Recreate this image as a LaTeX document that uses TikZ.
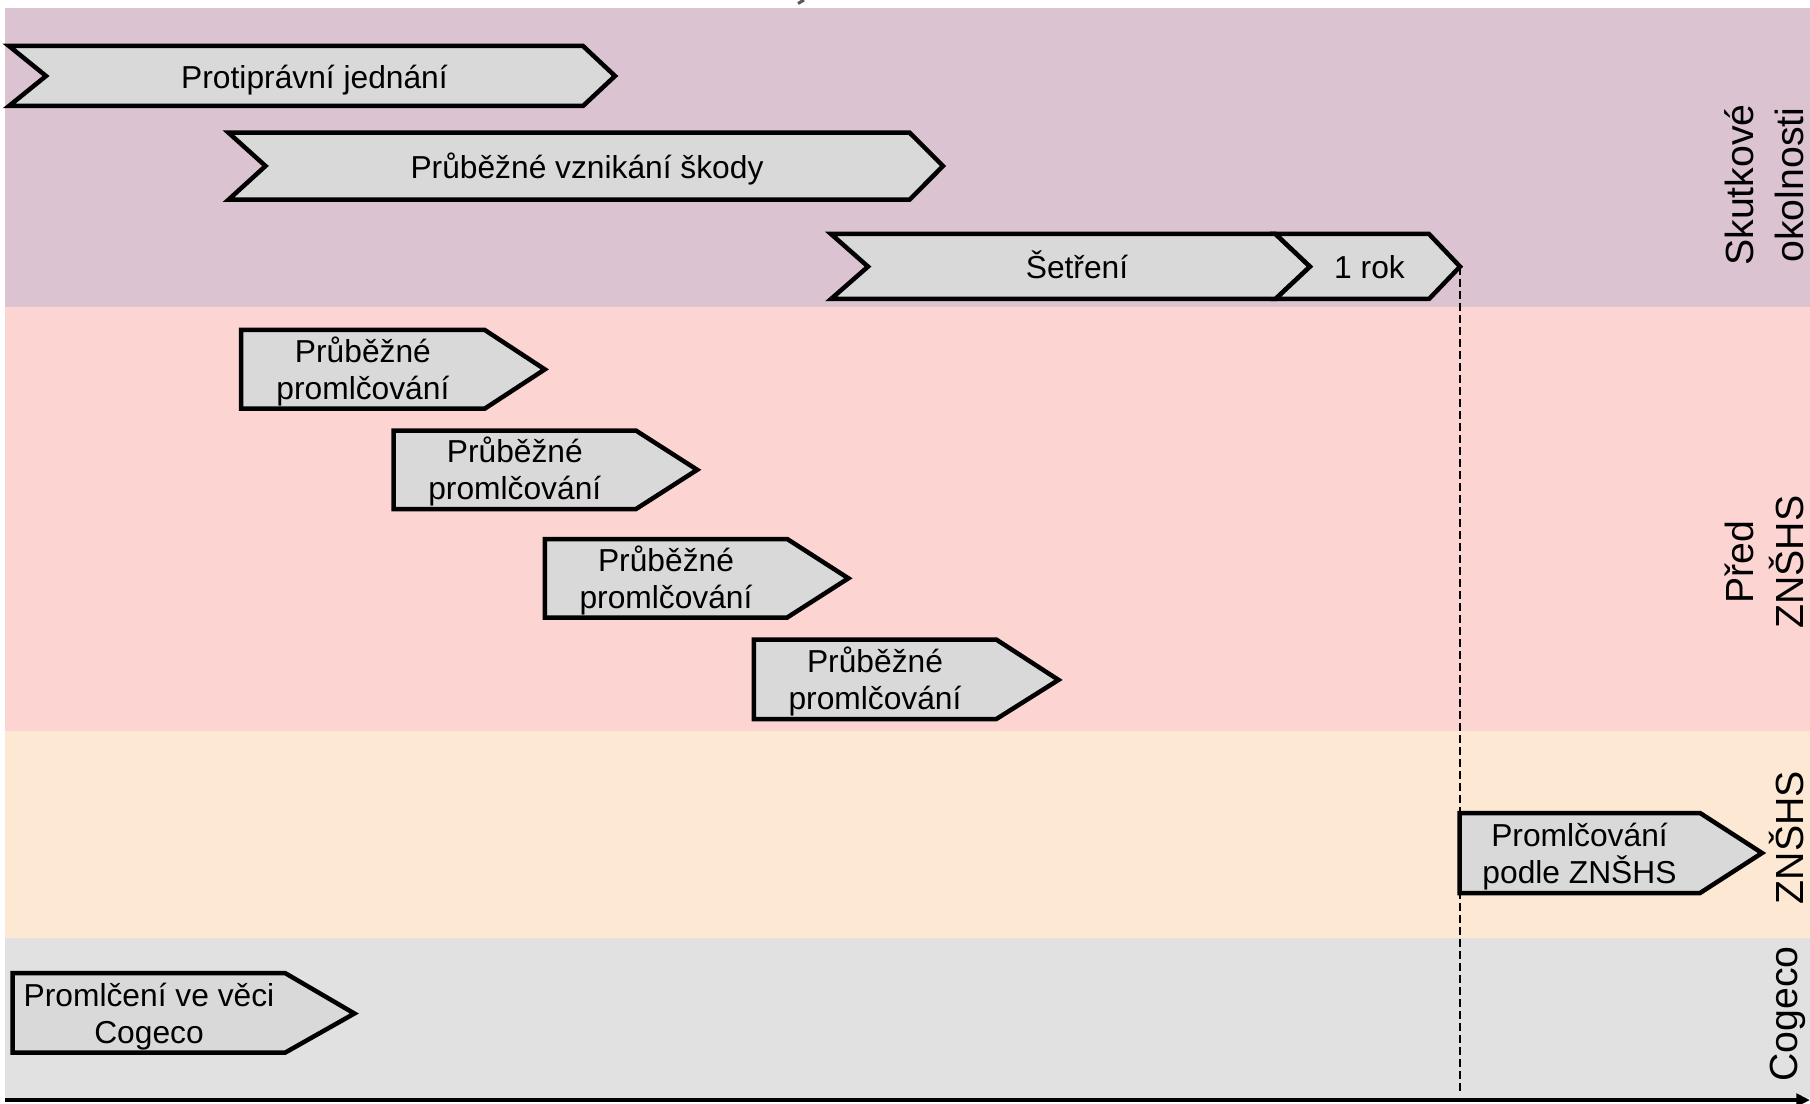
\documentclass[tikz,border=0pt]{standalone}
\usepackage{fontspec}
\setmainfont{Liberation Sans}
\usetikzlibrary{arrows.meta}
\definecolor{bandA}{HTML}{DCC3D2}
\definecolor{bandB}{HTML}{FCD5D3}
\definecolor{bandC}{HTML}{FDE9D3}
\definecolor{bandD}{HTML}{E1E1E1}
\definecolor{boxgray}{HTML}{D9D9D9}
\tikzset{
  chev/.style={draw=black, line width=1.8pt, fill=boxgray, line join=miter},
  lbl/.style={font=\fontsize{12.7}{14.8}\selectfont, text=black, inner sep=0pt, align=center, anchor=base},
  side/.style={font=\fontsize{15.7}{20}\selectfont, text=black, inner sep=0pt, align=center, rotate=90, anchor=base},
  dashline/.style={draw=black, line width=0.7pt, dash pattern=on 3.2pt off 1.6pt},
  axisline/.style={draw=black, line width=1.3pt, -{Triangle[length=5.5pt,width=5pt]}},
}
\begin{document}
\begin{tikzpicture}[x=0.4pt,y=-0.4pt]
\useasboundingbox (0,0) rectangle (1810,1104);
\fill[white] (0,0) rectangle (1810,1104);
% bands
\fill[bandA] (5,8) rectangle (1810,307);
\fill[bandB] (5,307) rectangle (1810,731);
\fill[bandC] (5,731) rectangle (1810,938);
\fill[bandD] (5,938) rectangle (1810,1098);
% fragment at top edge
\draw[gray!70!black, line width=1.2pt] (804,0) -- (798,3.5);
% dashed marker
\coordinate (rokTip) at (1460,266.6);
\coordinate (dashEnd) at (1460,1094);
\draw[dashline] (rokTip) -- (dashEnd);
% chevrons
\draw[chev] (9,46) -- (583,46) -- (615,76) -- (583,106) -- (9,106) -- (46,76) -- cycle;
\node[lbl] (protipravni) at (314.5,88.5) {Protiprávní jednání};
\draw[chev] (228.5,132.7) -- (909.6,132.7) -- (943,166) -- (909.6,199.7) -- (228.5,199.7) -- (265.5,166) -- cycle;
\node[lbl] (skoda) at (587,178.5) {Průběžné vznikání škody};
\draw[chev] (831,234) -- (1275.5,234) -- (1310,266.6) -- (1275.5,299) -- (831,299) -- (868,266.6) -- cycle;
\node[lbl] (setreni) at (1077,279) {Šetření};
\draw[chev] (1275.5,234) -- (1429,234) -- (1460,266.6) -- (1429,299) -- (1275.5,299) -- (1310,266.6) -- cycle;
\node[lbl] (rok) at (1369.5,279) {1 rok};
% pentagons
\draw[chev] (241,330) -- (484.8,330) -- (544.8,369.4) -- (484.8,408.6) -- (241,408.6) -- cycle;
\node[lbl] (promA) at (362.9,399.4) {Průběžné\\promlčování};
\draw[chev] (393.6,430.6) -- (636,430.6) -- (697.2,469.8) -- (636,509) -- (393.6,509) -- cycle;
\node[lbl] (promB) at (514.8,499.8) {Průběžné\\promlčování};
\draw[chev] (544.8,539) -- (787.2,539) -- (848.4,578.3) -- (787.2,617.5) -- (544.8,617.5) -- cycle;
\node[lbl] (promC) at (666,608.3) {Průběžné\\promlčování};
\draw[chev] (753.8,639.5) -- (996.2,639.5) -- (1058.5,679.9) -- (996.2,719.1) -- (753.8,719.1) -- cycle;
\node[lbl] (promD) at (875,709.9) {Průběžné\\promlčování};
\draw[chev] (1459.5,813) -- (1700,813) -- (1762,853) -- (1700,893) -- (1459.5,893) -- cycle;
\node[lbl] (promZ) at (1579.5,883) {Promlčování\\podle ZNŠHS};
\draw[chev] (12.7,973) -- (285,973) -- (354.4,1013.5) -- (285,1052.7) -- (12.7,1052.7) -- cycle;
\node[lbl] (cogecoBox) at (149,1043) {Promlčení ve věci\\Cogeco};
% side labels
\node[side] (sideA) at (1803,185) {Skutkové\\okolnosti};
\node[side] (sideB) at (1803,562) {Před\\ZNŠHS};
\node[side] (sideC) at (1803,837.5) {ZNŠHS};
\node[side] (sideD) at (1797,1014) {Cogeco};
% time axis
\coordinate (axL) at (5,1100);
\coordinate (axR) at (1810,1100);
\draw[axisline] (axL) -- (axR);
\end{tikzpicture}
\end{document}
